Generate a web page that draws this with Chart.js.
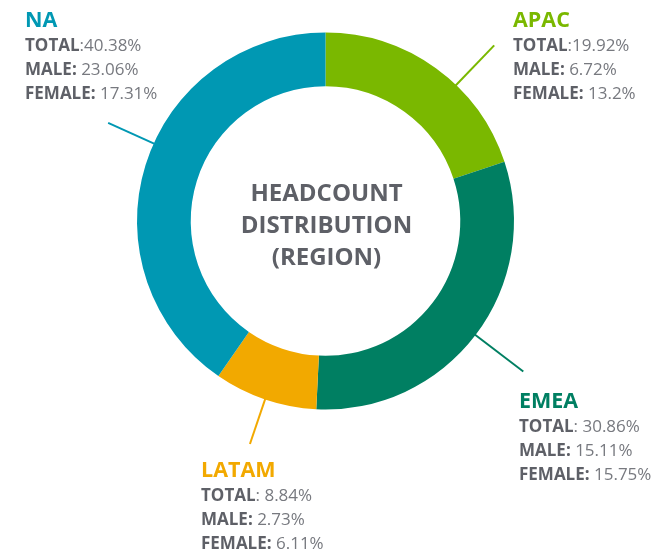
<!DOCTYPE html>
<html><head><meta charset="utf-8">
<script src="https://cdn.jsdelivr.net/npm/chart.js@4/dist/chart.umd.min.js"></script>
<style>html,body{margin:0;padding:0;background:#fff;} canvas{display:block;}</style>
</head><body>
<canvas id="c" width="654" height="556"></canvas>
<script>
// ---- data ----
const regions = ['APAC', 'EMEA', 'LATAM', 'NA'];
const totalShare = [19.92, 30.86, 8.84, 40.38];
const totalText = ['19.92%', '30.86%', '8.84%', '40.38%'];
const maleText = ['6.72%', '15.11%', '2.73%', '23.06%'];
const femaleText = ['13.2%', '15.75%', '6.11%', '17.31%'];
const centerTitle = ['HEADCOUNT', 'DISTRIBUTION', '(REGION)'];

// ---- style / layout ----
const colors = ['#7ab800', '#007f62', '#f2a900', '#0098b3'];
const labelLayout = [
  { x: 513, base: 27, lines: [51, 75, 99], sep: ':', angleOffset: 8, len: 55 },
  { x: 519, base: 408, lines: [432, 456, 480], sep: ': ', angleOffset: 0, len: 60 },
  { x: 201, base: 477, lines: [501, 525, 549], sep: ': ', angleOffset: 0, len: 47 },
  { x: 25, base: 27, lines: [51, 75, 99], sep: ':', angleOffset: 7, len: 50 }
];
const FONT = '"Open Sans", "Noto Sans", sans-serif';
const darkGray = '#5e6067';
const lightGray = '#77797f';

const labelPlugin = {
  id: 'regionLabels',
  afterDraw(chart) {
    const ctx = chart.ctx;
    const meta = chart.getDatasetMeta(0);
    ctx.save();
    meta.data.forEach((arc, i) => {
      const p = arc.getProps(['x', 'y', 'startAngle', 'endAngle', 'outerRadius'], true);
      const L = labelLayout[i];
      const mid = (p.startAngle + p.endAngle) / 2 + L.angleOffset * Math.PI / 180;
      const r0 = p.outerRadius - 1, r1 = p.outerRadius + L.len;
      ctx.strokeStyle = colors[i];
      ctx.lineWidth = 2;
      ctx.beginPath();
      ctx.moveTo(p.x + Math.cos(mid) * r0, p.y + Math.sin(mid) * r0);
      ctx.lineTo(p.x + Math.cos(mid) * r1, p.y + Math.sin(mid) * r1);
      ctx.stroke();

      ctx.textAlign = 'left';
      ctx.textBaseline = 'alphabetic';
      ctx.font = 'bold 21.5px ' + FONT;
      ctx.fillStyle = colors[i];
      ctx.fillText(regions[i], L.x, L.base);

      const rows = [
        ['TOTAL', L.sep + totalText[i]],
        ['MALE:', ' ' + maleText[i]],
        ['FEMALE:', ' ' + femaleText[i]]
      ];
      rows.forEach((row, k) => {
        ctx.font = 'bold 17px ' + FONT;
        ctx.fillStyle = darkGray;
        ctx.fillText(row[0], L.x, L.lines[k]);
        const w = ctx.measureText(row[0]).width;
        ctx.font = '17px ' + FONT;
        ctx.fillStyle = lightGray;
        ctx.fillText(row[1], L.x + w, L.lines[k]);
      });
    });
    // center title
    const c = meta.data[0].getProps(['x', 'y'], true);
    ctx.font = 'bold 24px ' + FONT;
    ctx.fillStyle = darkGray;
    ctx.textAlign = 'center';
    centerTitle.forEach((t, k) => {
      ctx.fillText(t, c.x + 1, c.y - 20 + k * 32);
    });
    ctx.restore();
  }
};

new Chart(document.getElementById('c'), {
  type: 'doughnut',
  data: {
    labels: regions,
    datasets: [{
      data: totalShare,
      backgroundColor: colors,
      borderWidth: 0,
      hoverOffset: 0
    }]
  },
  options: {
    responsive: false,
    animation: false,
    cutout: '71.5%',
    layout: { padding: { top: 32, bottom: 146, left: 137, right: 140 } },
    plugins: { legend: { display: false }, tooltip: { enabled: false } }
  },
  plugins: [labelPlugin]
});
</script>
</body></html>
